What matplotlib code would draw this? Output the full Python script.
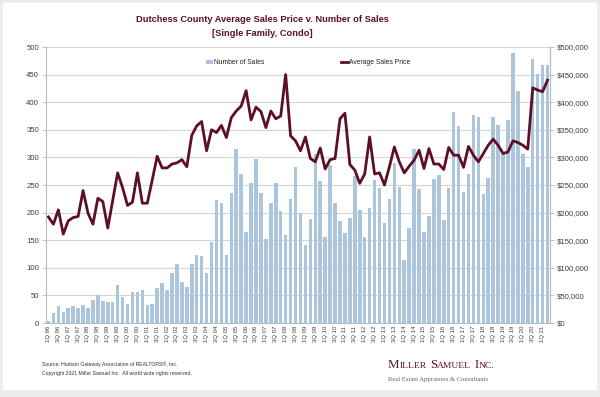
"""
Dutchess County average sales price vs number of sales, quarterly 1Q 96 - 2Q 21
"""
import numpy as np
import matplotlib
matplotlib.use("Agg")
import matplotlib.pyplot as plt
from matplotlib.patches import Patch, Rectangle
from matplotlib.lines import Line2D
from matplotlib.ticker import FuncFormatter

plt.rcParams['font.family'] = ['Liberation Sans', 'DejaVu Sans']

# quarters 1Q 96 .. 2Q 21
quarters = ["%dQ %02d" % (q, y % 100) for y in range(1996, 2022) for q in (1, 2, 3, 4)][:102]

sales = [3, 18, 30, 20, 27, 31, 27, 33, 27, 42,
         51, 40, 38, 38, 69, 47, 35, 56, 56, 60,
         32, 35, 63, 72, 60, 90, 106, 75, 66, 106,
         123, 121, 91, 147, 222, 217, 124, 235, 316, 270,
         165, 253, 298, 235, 152, 217, 253, 202, 159, 224,
         282, 200, 141, 188, 307, 258, 155, 286, 217, 185,
         163, 191, 266, 205, 156, 208, 259, 245, 181, 224,
         289, 247, 114, 172, 315, 243, 164, 193, 261, 269,
         187, 245, 383, 357, 238, 270, 377, 374, 233, 262,
         373, 359, 307, 368, 489, 420, 306, 283, 478, 451,
         467, 467]

price_k = [192, 179, 205, 161, 185, 191, 193, 240, 199, 179,
           226, 220, 172, 222, 272, 245, 213, 219, 272, 217,
           217, 259, 302, 281, 281, 288, 290, 296, 283, 340,
           357, 365, 312, 350, 345, 358, 336, 372, 384, 393,
           421, 368, 391, 383, 354, 384, 370, 375, 450, 339,
           330, 312, 337, 298, 292, 317, 279, 296, 298, 370,
           380, 287, 277, 253, 270, 337, 270, 272, 250, 283,
           319, 292, 272, 284, 295, 313, 280, 316, 288, 288,
           278, 318, 304, 304, 282, 320, 304, 292, 307, 322,
           333, 322, 307, 310, 330, 327, 322, 315, 426, 422,
           419, 440]
price = [p * 1000 for p in price_k]

maroon = "#5e0f22"
bar_blue = "#aac5dc"
grid_c = "#d4d4d4"
txt_c = "#404040"

fig = plt.figure(figsize=(6, 3.97), dpi=100)
fig.patch.set_facecolor("#ececec")
fig.patches.append(Rectangle((3 / 600, 1 - 390 / 397), 594 / 600, 387 / 397,
                             transform=fig.transFigure, facecolor="white",
                             edgecolor="none", zorder=-10))

ax = fig.add_axes([46 / 600, 1 - 323 / 397, 504 / 600, 276 / 397])
ax.set_facecolor("none")
x = np.arange(len(quarters))
ax.bar(x, sales, width=0.72, color=bar_blue, zorder=2)
ax.set_xlim(-0.5, len(quarters) - 0.5)
ax.set_ylim(0, 500)
ax.set_yticks(range(0, 501, 50))
ax.yaxis.grid(True, color=grid_c, linewidth=0.8, zorder=0)
ax.set_axisbelow(True)
ax.set_xticks(x[::2])
ax.set_xticklabels(quarters[::2], rotation=90, fontsize=4.3, color=txt_c)
ax.tick_params(axis='y', labelsize=5.6, colors=txt_c, length=3, width=0.6, pad=2)
ax.tick_params(axis='y', color="#bbbbbb")
ax.tick_params(axis='x', length=0, pad=2)
ax.spines["top"].set_visible(False)
for s in ["left", "right", "bottom"]:
    ax.spines[s].set_color("#bbbbbb")
    ax.spines[s].set_linewidth(0.8)

ax2 = ax.twinx()
ax2.plot(x, price, color=maroon, linewidth=2.0, zorder=3)
ax2.set_ylim(0, 500000)
ax2.set_yticks(range(0, 500001, 50000))
ax2.yaxis.set_major_formatter(FuncFormatter(lambda v, p: "${:,.0f}".format(v)))
ax2.tick_params(axis='y', labelsize=5.6, colors=txt_c, length=3, width=0.6, pad=2)
ax2.tick_params(axis='y', color="#bbbbbb")
for s in ["top", "left", "bottom"]:
    ax2.spines[s].set_visible(False)
ax2.spines["right"].set_color("#bbbbbb")
ax2.spines["right"].set_linewidth(0.8)

handles = [Patch(facecolor=bar_blue, edgecolor="none"),
           Line2D([0], [0], color=maroon, linewidth=2.0)]
fig.legend(handles, ["Number of Sales", "Average Sales Price"], ncol=2,
           loc="center left", bbox_to_anchor=(200 / 600, 1 - 63 / 397),
           frameon=False, fontsize=4.9, handlelength=1.0, handleheight=0.5,
           handletextpad=0.2, columnspacing=11.2, labelcolor="#222222")

fig.text(0.4375, 1 - 20 / 397, "Dutchess County Average Sales Price v. Number of Sales",
         ha="center", va="center", fontsize=6.7, fontweight="bold", color=maroon)
fig.text(0.4375, 1 - 34 / 397, "[Single Family, Condo]",
         ha="center", va="center", fontsize=6.7, fontweight="bold", color=maroon)

fig.text(42 / 600, 1 - 364 / 397, "Source: Hudson Gateway Association of REALTORS\u00ae, Inc.",
         ha="left", va="center", fontsize=3.7, color="#333333")
fig.text(42 / 600, 1 - 374 / 397, "Copyright 2021 Miller Samuel Inc.  All world wide rights reserved.",
         ha="left", va="center", fontsize=3.7, color="#333333")

# small caps logo
renderer = fig.canvas.get_renderer()
pieces = [("M", 9.3), ("ILLER", 6.8), (None, 0), ("S", 9.3), ("AMUEL", 6.8),
          (None, 0), ("I", 9.3), ("NC.", 6.8)]
xpos = 388
for t, fs in pieces:
    if t is None:
        xpos += 3.5
        continue
    tt = fig.text(xpos / 600, 1 - 368 / 397, t, ha="left", va="baseline",
                  fontsize=fs, color=maroon, family=["Liberation Serif", "DejaVu Serif"])
    xpos += tt.get_window_extent(renderer).width
fig.text(388 / 600, 1 - 381 / 397, "Real Estate Appraisers & Consultants",
         ha="left", va="baseline", fontsize=4.8, color="#666666",
         family=["Liberation Serif", "DejaVu Serif"])

fig.savefig("out.png", dpi=100, facecolor=fig.get_facecolor())
